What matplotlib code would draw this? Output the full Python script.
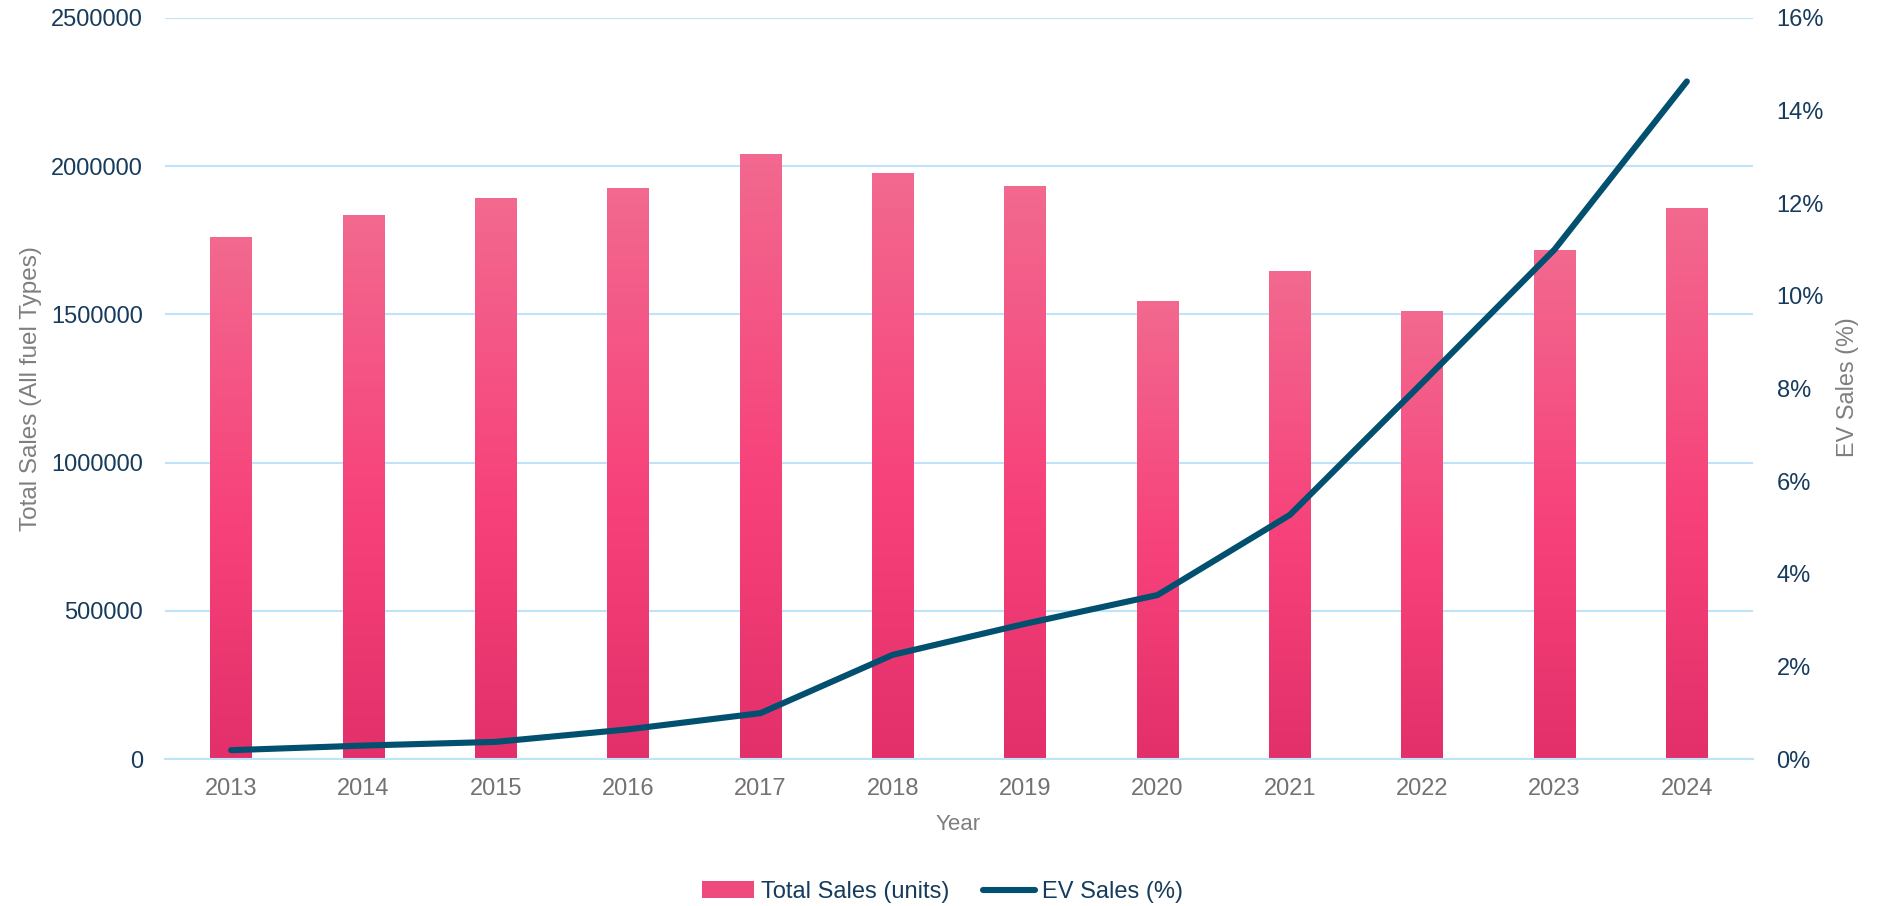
import matplotlib
matplotlib.use("Agg")
import matplotlib.pyplot as plt
import numpy as np
from matplotlib.colors import LinearSegmentedColormap
from matplotlib.lines import Line2D
from matplotlib.patches import Patch

years = ["2013", "2014", "2015", "2016", "2017", "2018", "2019", "2020", "2021", "2022", "2023", "2024"]
total_sales = [1761000, 1835000, 1890000, 1924000, 2040000, 1976000, 1930000, 1545000, 1646000, 1511000, 1714000, 1856000]
ev_share = [0.19, 0.29, 0.37, 0.64, 0.99, 2.25, 2.92, 3.54, 5.27, 8.12, 11.0, 14.63]

plt.rcParams['font.family'] = ['Liberation Sans', 'DejaVu Sans']

NAVY = '#163B5C'
GRAY_TICK = '#767171'
GRAY_LABEL = '#7F7F7F'
GRID = '#BFE3F8'
LINE = '#02506F'

fig = plt.figure(figsize=(18.85, 9.06), dpi=100)
ax = fig.add_axes([165/1885, 1-759/906, (1753-165)/1885, (759-18)/906])
ax2 = ax.twinx()

x = np.arange(len(years))
w = 0.317
bars = ax.bar(x, total_sales, width=w, color='none', edgecolor='none', zorder=2)

cmap = LinearSegmentedColormap.from_list('pinkgrad', [(0.0, '#E3306A'), (0.45, '#F7417A'), (1.0, '#F2698F')])
grad = np.linspace(0, 1, 256).reshape(-1, 1)
for b in bars:
    bx, by = b.get_x(), b.get_y()
    bw, bh = b.get_width(), b.get_height()
    ax.imshow(grad, cmap=cmap, origin='lower', aspect='auto',
              extent=(bx, bx + bw, by, by + bh), zorder=2, interpolation='bicubic')

ax.set_xlim(-0.5, len(years) - 0.5)
ax.set_ylim(0, 2500000)
ax.set_yticks(np.arange(0, 2500001, 500000))
ax.set_yticklabels([str(v) for v in range(0, 2500001, 500000)])
ax.set_xticks(x)
ax.set_xticklabels(years)

ax.grid(axis='y', color=GRID, linewidth=1.5, zorder=0)
ax.set_axisbelow(True)
for s in ['top', 'right', 'left']:
    ax.spines[s].set_visible(False)
ax.spines['bottom'].set_color(GRID)
ax.spines['bottom'].set_linewidth(1.5)
ax.tick_params(axis='both', length=0)
ax.tick_params(axis='y', labelsize=17, labelcolor=NAVY, pad=16)
ax.tick_params(axis='x', labelsize=17, labelcolor=GRAY_TICK, pad=13.5)

ax2.plot(x, ev_share, color=LINE, linewidth=4.4, solid_capstyle='round', solid_joinstyle='round', zorder=3)
ax2.set_ylim(0, 16)
ax2.set_yticks(np.arange(0, 17, 2))
ax2.set_yticklabels([f"{v}%" for v in range(0, 17, 2)])
for s in ax2.spines.values():
    s.set_visible(False)
ax2.tick_params(axis='y', length=0, labelsize=17, labelcolor=NAVY, pad=17)

fig.text(31/1885, 1-(18+759)/2/906, 'Total Sales (All fuel Types)', fontsize=17.5, color=GRAY_LABEL,
         rotation=90, ha='center', va='center')
fig.text(1847/1885, 1-387/906, 'EV Sales (%)', fontsize=16.8, color=GRAY_LABEL,
         rotation=90, ha='center', va='center')
fig.text(958/1885, 1-825/906, 'Year', fontsize=16, color=GRAY_LABEL, ha='center', va='center')

handles = [Patch(facecolor='#EE4A7D', edgecolor='none'),
           Line2D([0], [0], color=LINE, linewidth=4.4, solid_capstyle='round')]
leg = fig.legend(handles, ['Total Sales (units)', 'EV Sales (%)'], loc='center',
                 bbox_to_anchor=(0.5, 1-892/906), ncol=2, frameon=False,
                 fontsize=17, handlelength=2.2, handleheight=0.7, handletextpad=0.3, columnspacing=1.4)
for t in leg.get_texts():
    t.set_color(NAVY)

fig.savefig('out.png', dpi=100)
